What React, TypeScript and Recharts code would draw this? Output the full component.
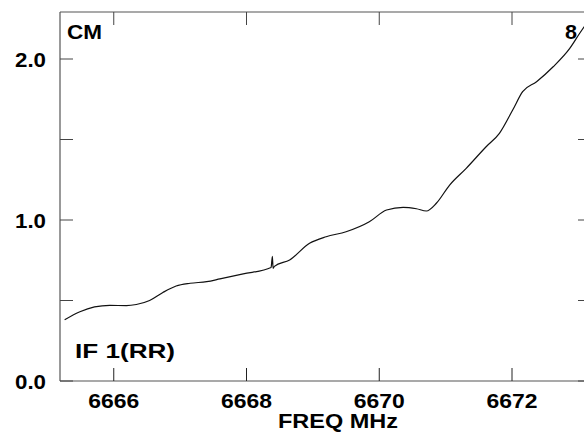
import React from "react";
import { LineChart, Line, XAxis, YAxis } from "recharts";

// spectrum
const freqs = [
  6665.26, 6665.49, 6665.71, 6665.94, 6666.19, 6666.34, 6666.54, 6666.74, 6666.94, 6667.15,
  6667.4, 6667.6, 6667.95, 6668.37, 6668.39, 6668.4, 6668.42, 6668.65, 6668.95, 6669.2,
  6669.5, 6669.85, 6670.11, 6670.36, 6670.56, 6670.71, 6670.86, 6671.06, 6671.31, 6671.61,
  6671.81, 6672.01, 6672.16, 6672.37, 6672.62, 6672.87, 6673.02, 6673.12,
];
const flux = [
  0.38, 0.43, 0.46, 0.47, 0.468, 0.475, 0.5, 0.55, 0.59, 0.607,
  0.617, 0.634, 0.665, 0.705, 0.775, 0.7, 0.712, 0.752, 0.855, 0.896,
  0.927, 0.989, 1.062, 1.079, 1.07, 1.056, 1.104, 1.217, 1.321, 1.455,
  1.538, 1.683, 1.797, 1.859, 1.952, 2.066, 2.16, 2.22,
];

const xTicks = [6666, 6668, 6670, 6672];
const yTicks = [0, 0.5, 1, 1.5, 2];
const yLabels: Record<number, string> = { 0: "0.0", 1: "1.0", 2: "2.0" };

const data = freqs.map((f, i) => ({ f, v: flux[i] }));

const FONT = "'Liberation Sans', Arial, sans-serif";
const TICK_LEN = 13;
const FRAME = "#555";

const txt = {
  fontFamily: FONT,
  fontWeight: 700,
  fontSize: 21,
  fill: "#000",
  lengthAdjust: "spacingAndGlyphs" as const,
};

const BottomTick = (props: any) => {
  const { x, y, payload } = props;
  return (
    <g>
      <line x1={x} x2={x} y1={y} y2={y - TICK_LEN} stroke="#222" />
      <text {...txt} x={x} y={y + 27} textAnchor="middle" textLength={51}>
        {payload.value}
      </text>
    </g>
  );
};

const TopTick = (props: any) => {
  const { x, y } = props;
  return <line x1={x} x2={x} y1={y} y2={y + TICK_LEN} stroke="#444" />;
};

const LeftTick = (props: any) => {
  const { x, y, payload } = props;
  const label = yLabels[payload.value];
  return (
    <g>
      <line x1={x} x2={x + TICK_LEN} y1={y} y2={y} stroke="#444" />
      {label && (
        <text {...txt} x={x - 14} y={y + 7.5} textAnchor="end" textLength={31}>
          {label}
        </text>
      )}
    </g>
  );
};

const RightTick = (props: any) => {
  const { x, y } = props;
  return <line x1={x} x2={x - TICK_LEN} y1={y} y2={y} stroke="#444" />;
};

const axisCommon = {
  type: "number" as const,
  allowDataOverflow: true,
  tickSize: 0,
  tickMargin: 0,
  tickLine: false,
  interval: 0 as const,
  axisLine: { stroke: FRAME, strokeWidth: 1.2 },
};

export default function App() {
  return (
    <div
      style={{
        position: "absolute",
        left: 0,
        top: 0,
        width: 584,
        height: 434,
        overflow: "hidden",
        background: "#fff",
      }}
    >
      <LineChart
        width={592}
        height={434}
        data={data}
        margin={{ top: 11, right: 0, bottom: 52, left: 59 }}
      >
        <XAxis
          {...axisCommon}
          xAxisId="b"
          dataKey="f"
          orientation="bottom"
          domain={[6665.19, 6673.19]}
          ticks={xTicks}
          height={1}
          tick={<BottomTick />}
        />
        <XAxis
          {...axisCommon}
          xAxisId="t"
          dataKey="f"
          orientation="top"
          domain={[6665.19, 6673.19]}
          ticks={xTicks}
          height={1}
          tick={<TopTick />}
        />
        <YAxis
          {...axisCommon}
          yAxisId="l"
          orientation="left"
          domain={[0, 2.292]}
          ticks={yTicks}
          width={1}
          tick={<LeftTick />}
        />
        <YAxis
          {...axisCommon}
          yAxisId="r"
          orientation="right"
          domain={[0, 2.292]}
          ticks={yTicks}
          width={1}
          tick={<RightTick />}
        />
        <Line
          xAxisId="b"
          yAxisId="l"
          dataKey="v"
          type="monotone"
          stroke="#111"
          strokeWidth={1.2}
          dot={false}
          isAnimationActive={false}
        />
      </LineChart>
      <svg
        width={584}
        height={434}
        style={{ position: "absolute", left: 0, top: 0, pointerEvents: "none" }}
      >
        <text {...txt} x={67} y={39} textLength={35}>CM</text>
        <text {...txt} x={565} y={39} textLength={12}>8</text>
        <text {...txt} x={75} y={358} textLength={100}>IF 1(RR)</text>
        <text {...txt} x={278} y={428} textLength={120}>FREQ MHz</text>
      </svg>
    </div>
  );
}
